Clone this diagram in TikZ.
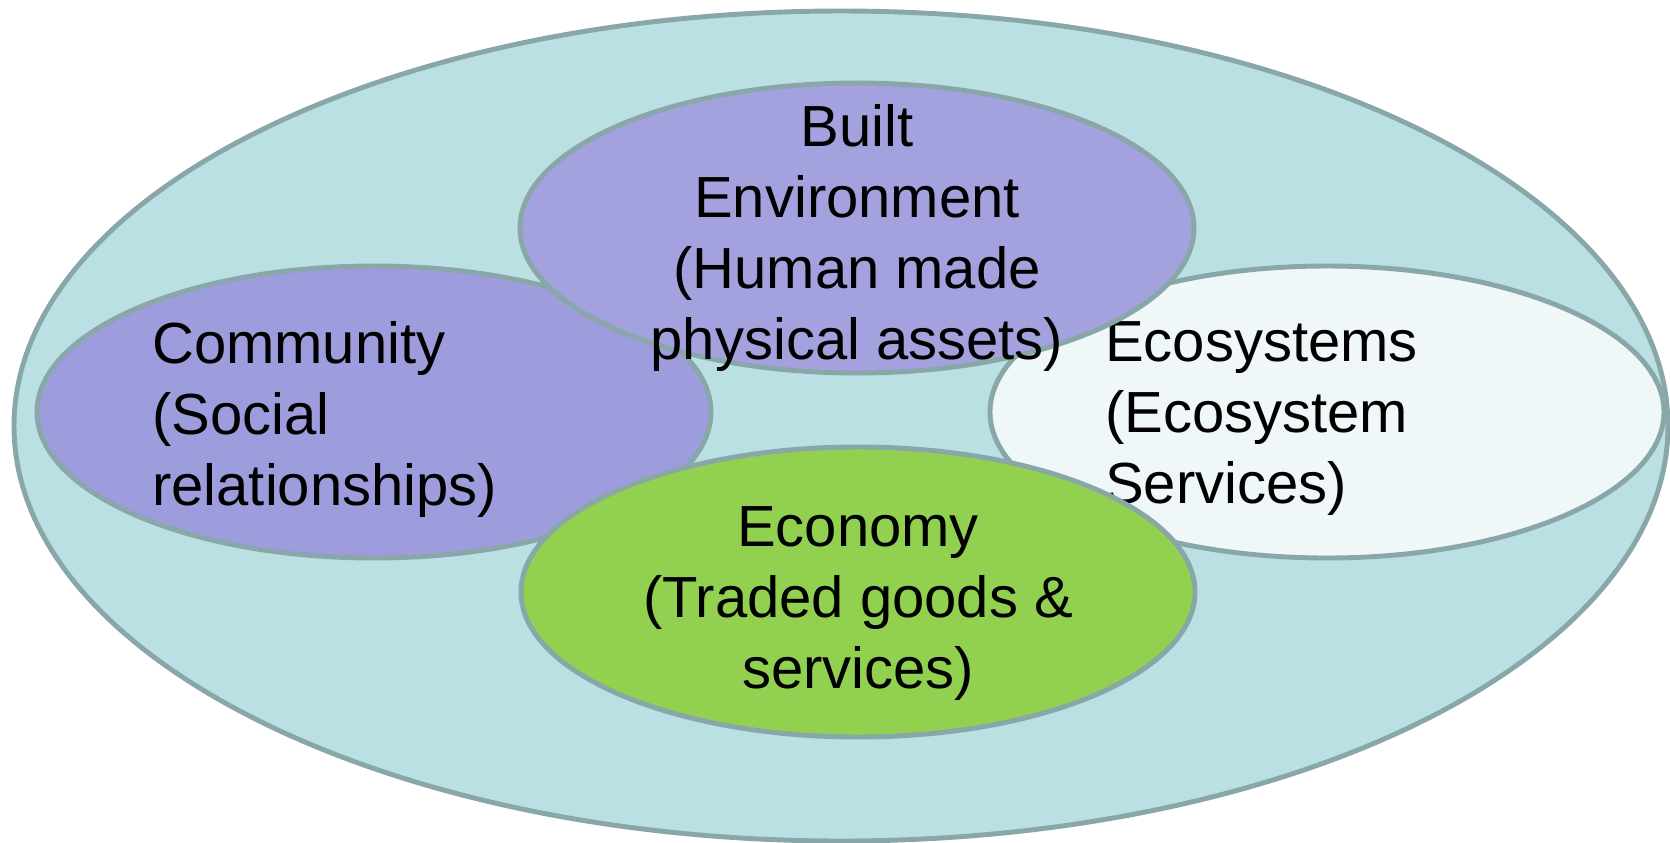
\documentclass[tikz,border=0pt]{standalone}
\usepackage{fontspec}
\setmainfont{Liberation Sans}
\usepackage{xcolor}
\usepackage{tikz}
\usetikzlibrary{shapes.geometric, positioning}

\definecolor{rimgray}{RGB}{137,166,168}
\definecolor{worldteal}{RGB}{186,224,227}
\definecolor{socialviolet}{RGB}{157,156,220}
\definecolor{builtviolet}{RGB}{163,162,222}
\definecolor{ecowhite}{RGB}{239,247,249}
\definecolor{tradegreen}{RGB}{146,208,80}

\begin{document}
\begin{tikzpicture}[blob/.style={ellipse, draw=rimgray, line width=1.4pt, inner sep=0pt, minimum width=6.74cm, minimum height=2.92cm},
  caption/.style={font=\fontsize{16.5}{20.2}\selectfont, inner sep=0pt}]
\useasboundingbox (0,0) rectangle (16.7,-8.42);
% Fondo
\node[blob, fill=worldteal, minimum width=16.54cm, minimum height=8.30cm] (world) at (8.41,-4.26) {};
% Capitales
\node[blob, fill=socialviolet] (community) at (3.74,-4.12) {};
\node[caption, align=left, right=1.17cm of community.west, yshift=-0.7mm] (communitytxt) {Community\\(Social\\relationships)};
\node[blob, fill=ecowhite] (ecosystems) at (13.27,-4.12) {};
\node[caption, align=left, right=1.17cm of ecosystems.west, yshift=-0.7mm] (ecosystemstxt) {Ecosystems\\(Ecosystem\\Services)};
\node[blob, fill=builtviolet, minimum height=2.90cm] (built) at (8.57,-2.28) {};
\node[caption, align=center, yshift=-1.0mm] (builttxt) at (built.center) {Built\\Environment\\(Human made\\physical assets)};
\node[blob, fill=tradegreen, minimum height=2.90cm] (economy) at (8.58,-5.92) {};
\node[caption, align=center, yshift=-1.2mm] (economytxt) at (economy.center) {Economy\\(Traded goods \&\\services)};
\end{tikzpicture}
\end{document}
